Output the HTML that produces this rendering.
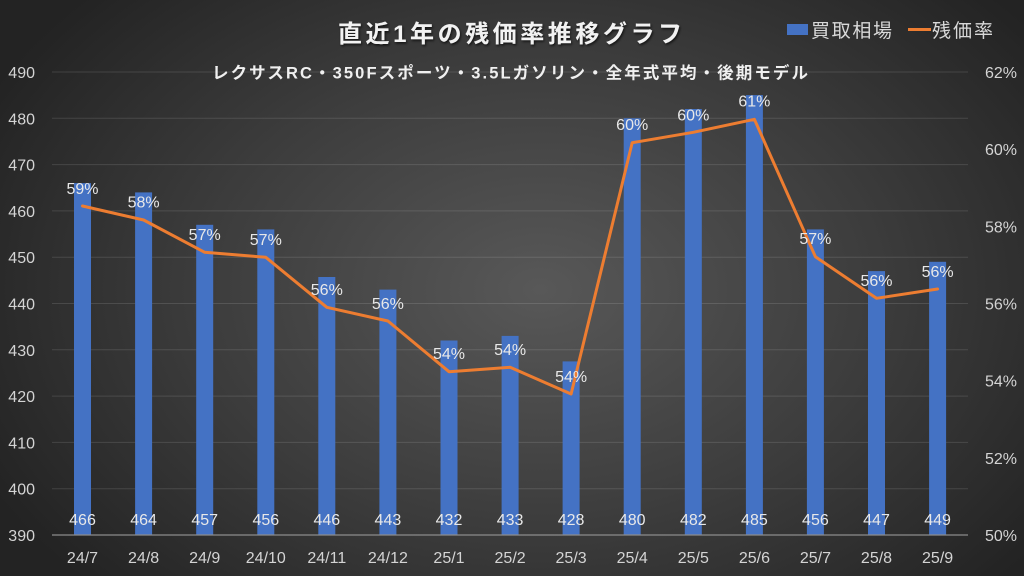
<!DOCTYPE html>
<html>
<head>
<meta charset="utf-8">
<style>
html,body{margin:0;padding:0;background:#262626;}
#c{width:1024px;height:576px;position:relative;overflow:hidden;
background:radial-gradient(ellipse 620px 430px at 540px 290px,#585858 0%,#3c3c3c 55%,#232323 100%);}
svg{position:absolute;left:0;top:0;}
</style>
</head>
<body>
<div id="c">
<svg width="1024" height="576" viewBox="0 0 1024 576" xmlns="http://www.w3.org/2000/svg">
<defs>
<filter id="sh" x="-10%" y="-30%" width="120%" height="160%">
<feDropShadow dx="1" dy="1.5" stdDeviation="1.2" flood-color="#000" flood-opacity="0.7"/>
</filter>
</defs>
<g stroke="#ffffff" stroke-opacity="0.12" stroke-width="1">
<line x1="52" y1="72" x2="968" y2="72"/>
<line x1="52" y1="118.3" x2="968" y2="118.3"/>
<line x1="52" y1="164.6" x2="968" y2="164.6"/>
<line x1="52" y1="210.9" x2="968" y2="210.9"/>
<line x1="52" y1="257.2" x2="968" y2="257.2"/>
<line x1="52" y1="303.5" x2="968" y2="303.5"/>
<line x1="52" y1="349.8" x2="968" y2="349.8"/>
<line x1="52" y1="396.1" x2="968" y2="396.1"/>
<line x1="52" y1="442.4" x2="968" y2="442.4"/>
<line x1="52" y1="488.7" x2="968" y2="488.7"/>
</g>
<g fill="#4472C4">
<rect x="74" y="183.1" width="17" height="351.9"/>
<rect x="135.1" y="192.4" width="17" height="342.6"/>
<rect x="196.2" y="224.8" width="17" height="310.2"/>
<rect x="257.3" y="229.4" width="17" height="305.6"/>
<rect x="318.3" y="277" width="17" height="258"/>
<rect x="379.4" y="289.6" width="17" height="245.4"/>
<rect x="440.5" y="340.5" width="17" height="194.5"/>
<rect x="501.6" y="335.9" width="17" height="199.1"/>
<rect x="562.6" y="361.4" width="17" height="173.6"/>
<rect x="623.7" y="118.3" width="17" height="416.7"/>
<rect x="684.8" y="109" width="17" height="426"/>
<rect x="745.9" y="95.1" width="17" height="439.9"/>
<rect x="806.9" y="229.4" width="17" height="305.6"/>
<rect x="868" y="271.1" width="17" height="263.9"/>
<rect x="929.1" y="261.8" width="17" height="273.2"/>
</g>
<line x1="52" y1="535" x2="968" y2="535" stroke="#8c8c8c" stroke-width="1.2"/>
<polyline fill="none" stroke="#ED7D31" stroke-width="3" stroke-linejoin="round" stroke-linecap="round"
points="82.5,206 143.6,220 204.7,252.3 265.8,257.3 326.8,307.3 387.9,321 449,371.7 510.1,367.3 571.1,394 632.2,142.7 693.3,132.3 754.4,119.3 815.4,256.7 876.5,298.3 937.6,289"/>
<g font-family="'Liberation Sans', sans-serif" font-size="16" fill="#d4d4d4">
<g text-anchor="end">
<text x="35" y="78">490</text>
<text x="35" y="124.3">480</text>
<text x="35" y="170.6">470</text>
<text x="35" y="216.9">460</text>
<text x="35" y="263.2">450</text>
<text x="35" y="309.5">440</text>
<text x="35" y="355.8">430</text>
<text x="35" y="402.1">420</text>
<text x="35" y="448.4">410</text>
<text x="35" y="494.7">400</text>
<text x="35" y="541">390</text>
</g>
<g text-anchor="start">
<text x="985" y="78">62%</text>
<text x="985" y="155.2">60%</text>
<text x="985" y="232.3">58%</text>
<text x="985" y="309.5">56%</text>
<text x="985" y="386.7">54%</text>
<text x="985" y="463.8">52%</text>
<text x="985" y="541">50%</text>
</g>
<g text-anchor="middle">
<text x="82.5" y="563">24/7</text>
<text x="143.6" y="563">24/8</text>
<text x="204.7" y="563">24/9</text>
<text x="265.8" y="563">24/10</text>
<text x="326.8" y="563">24/11</text>
<text x="387.9" y="563">24/12</text>
<text x="449" y="563">25/1</text>
<text x="510.1" y="563">25/2</text>
<text x="571.1" y="563">25/3</text>
<text x="632.2" y="563">25/4</text>
<text x="693.3" y="563">25/5</text>
<text x="754.4" y="563">25/6</text>
<text x="815.4" y="563">25/7</text>
<text x="876.5" y="563">25/8</text>
<text x="937.6" y="563">25/9</text>
</g>
<g text-anchor="middle" fill="#e8e8e8">
<text x="82.5" y="525">466</text>
<text x="143.6" y="525">464</text>
<text x="204.7" y="525">457</text>
<text x="265.8" y="525">456</text>
<text x="326.8" y="525">446</text>
<text x="387.9" y="525">443</text>
<text x="449" y="525">432</text>
<text x="510.1" y="525">433</text>
<text x="571.1" y="525">428</text>
<text x="632.2" y="525">480</text>
<text x="693.3" y="525">482</text>
<text x="754.4" y="525">485</text>
<text x="815.4" y="525">456</text>
<text x="876.5" y="525">447</text>
<text x="937.6" y="525">449</text>
</g>
<g text-anchor="middle" fill="#e8e8e8">
<text x="82.5" y="194">59%</text>
<text x="143.6" y="207.5">58%</text>
<text x="204.7" y="240">57%</text>
<text x="265.8" y="245">57%</text>
<text x="326.8" y="295">56%</text>
<text x="387.9" y="309">56%</text>
<text x="449" y="359">54%</text>
<text x="510.1" y="355">54%</text>
<text x="571.1" y="382">54%</text>
<text x="632.2" y="130">60%</text>
<text x="693.3" y="120.5">60%</text>
<text x="754.4" y="106.5">61%</text>
<text x="815.4" y="244">57%</text>
<text x="876.5" y="286">56%</text>
<text x="937.6" y="277">56%</text>
</g>
</g>
<text x="510" y="42" text-anchor="middle" font-family="'Liberation Sans','Noto Sans CJK JP',sans-serif" font-weight="bold" font-size="24" fill="#f2f2f2" filter="url(#sh)" textLength="344" lengthAdjust="spacing">直近1年の残価率推移グラフ</text>
<text x="212" y="78.5" font-family="'Liberation Sans','Noto Sans CJK JP',sans-serif" font-weight="bold" font-size="16.5" fill="#f0f0f0" textLength="596" lengthAdjust="spacing">レクサスRC・350Fスポーツ・3.5Lガソリン・全年式平均・後期モデル</text>
<rect x="787" y="24" width="21" height="11" fill="#4472C4"/>
<text x="811" y="37" font-family="'Liberation Sans','Noto Sans CJK JP',sans-serif" font-size="19" fill="#d9d9d9" textLength="81" lengthAdjust="spacing">買取相場</text>
<line x1="908" y1="29.5" x2="931" y2="29.5" stroke="#ED7D31" stroke-width="3"/>
<text x="932" y="37" font-family="'Liberation Sans','Noto Sans CJK JP',sans-serif" font-size="19" fill="#d9d9d9" textLength="61" lengthAdjust="spacing">残価率</text>
</svg>
</div>
</body>
</html>
